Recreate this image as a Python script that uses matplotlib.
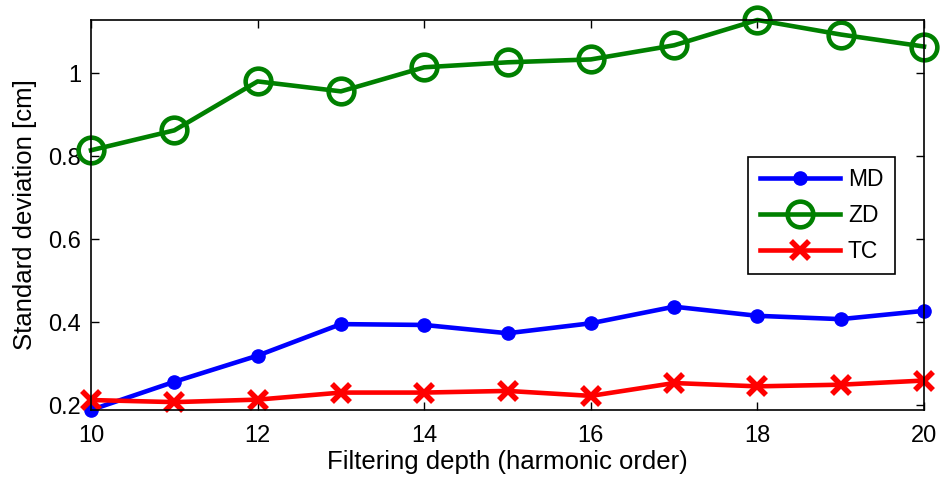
import matplotlib
matplotlib.use("Agg")
import matplotlib.pyplot as plt

plt.rcParams['font.family'] = ['Liberation Sans', 'DejaVu Sans']

# filtering depth (harmonic order)
depth = [10, 11, 12, 13, 14, 15, 16, 17, 18, 19, 20]

# standard deviation [cm]
md = [0.188, 0.256, 0.319, 0.395, 0.393, 0.373, 0.397, 0.437, 0.415, 0.407, 0.427]
zd = [0.814, 0.862, 0.980, 0.956, 1.014, 1.026, 1.033, 1.067, 1.128, 1.093, 1.064]
tc = [0.212, 0.207, 0.213, 0.230, 0.230, 0.234, 0.222, 0.253, 0.245, 0.249, 0.259]

fig = plt.figure(figsize=(9.41, 4.82), dpi=100)
ax = fig.add_axes([91 / 941, 1 - 410 / 482, 833 / 941, 390 / 482])

ax.plot(depth, md, color='#0000ff', lw=3.3, marker='o', ms=9.5, label='MD', clip_on=False)
ax.plot(depth, zd, color='#008000', lw=3.3, marker='o', ms=18.5, mfc='none', mew=3.3,
        label='ZD', clip_on=False)
ax.plot(depth, tc, color='#ff0000', lw=3.3, marker='x', ms=13, mew=4, label='TC', clip_on=False)

ax.set_xlim(10, 20)
ax.set_ylim(min(md), max(zd))
ax.set_xticks([10, 12, 14, 16, 18, 20])
ax.set_yticks([0.2, 0.4, 0.6, 0.8, 1.0])
ax.set_yticklabels(['0.2', '0.4', '0.6', '0.8', '1'])
ax.tick_params(direction='in', top=True, right=True, length=6, width=1, labelsize=17)
ax.tick_params(axis='x', pad=11)
ax.tick_params(axis='y', pad=7)
for s in ax.spines.values():
    s.set_linewidth(1.2)

ax.set_xlabel('Filtering depth (harmonic order)', fontsize=18.5, labelpad=2)
ax.set_ylabel('Standard deviation [cm]', fontsize=18.5, labelpad=8)

leg = ax.legend(loc='upper right', bbox_to_anchor=(0.965, 0.649), fontsize=16.5,
                fancybox=False, framealpha=1, edgecolor='black', handlelength=3.5,
                handletextpad=0.35, borderpad=0.5, labelspacing=0.55, borderaxespad=0)
leg.get_frame().set_linewidth(1.2)

fig.savefig('out.png', dpi=100)
